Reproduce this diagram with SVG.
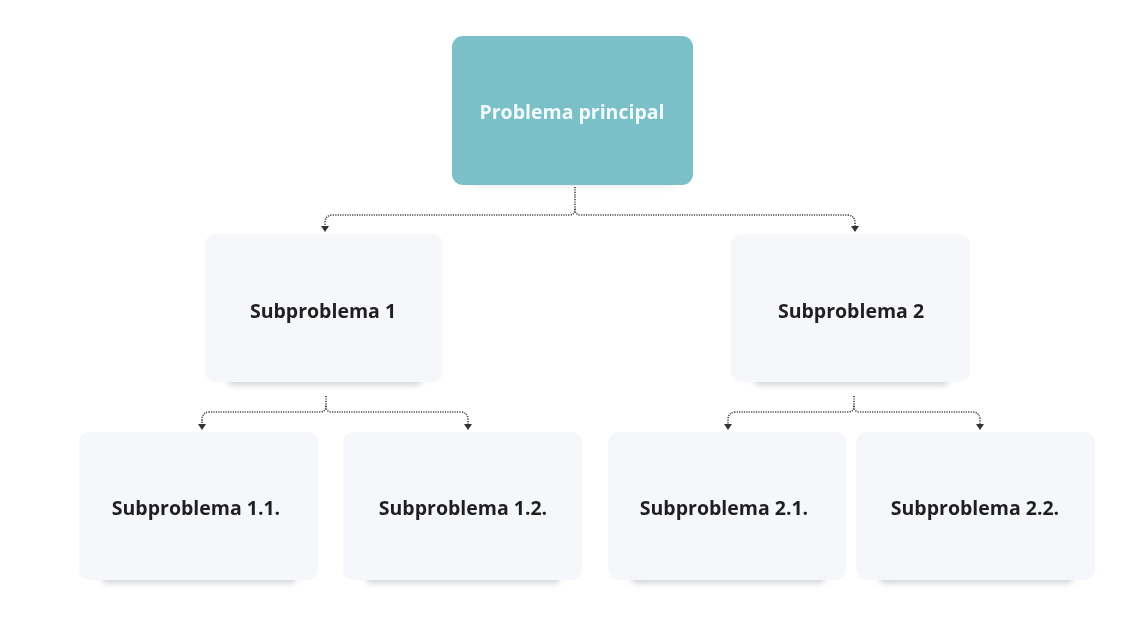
<svg xmlns="http://www.w3.org/2000/svg" width="1133" height="620" viewBox="0 0 1133 620">
<defs>
<style>
.box{fill:#f6f7fb;}
.main{fill:#7bbfc8;}
.lbl{font-family:"Open Sans","Liberation Sans",sans-serif;font-weight:700;font-size:19.5px;fill:#1e1e24;text-anchor:middle;dominant-baseline:central;}
.mlbl{font-family:"Open Sans","Liberation Sans",sans-serif;font-weight:700;font-size:19.5px;fill:#f2fbfc;text-anchor:middle;dominant-baseline:central;}
.con{fill:none;stroke:#444;stroke-width:1.6;stroke-dasharray:1.2 1.2;}
</style>
<filter id="sh" x="-10%" y="-50%" width="120%" height="200%">
<feGaussianBlur stdDeviation="3"/>
</filter>
</defs>
<rect width="1133" height="620" fill="#ffffff"/>
<g id="shadows" fill="#cfd0d4" filter="url(#sh)">
<rect x="470" y="176" width="205" height="10" rx="5" opacity="0.5"/>
<rect x="228" y="375" width="194" height="10" rx="5"/>
<rect x="754" y="375" width="194" height="10" rx="5"/>
<rect x="102" y="573" width="194" height="10" rx="5"/>
<rect x="366" y="573" width="194" height="10" rx="5"/>
<rect x="631" y="573" width="194" height="10" rx="5"/>
<rect x="879" y="573" width="194" height="10" rx="5"/>
</g>
<g id="connectors">
<path class="con" d="M575,187 V209 Q575,215 569,215 H333 Q325,215 325,223 V226"/>
<path class="con" d="M575,209 Q575,215 581,215 H847 Q855,215 855,223 V226"/>
<path d="M321,226 H329 L325,232 Z" fill="#333"/>
<path d="M851,226 H859 L855,232 Z" fill="#333"/>
<path class="con" d="M326,396 V406 Q326,412 320,412 H210 Q202,412 202,420 V424"/>
<path class="con" d="M326,406 Q326,412 332,412 H460 Q468,412 468,420 V424"/>
<path d="M198,424 H206 L202,430 Z" fill="#333"/>
<path d="M464,424 H472 L468,430 Z" fill="#333"/>
<path class="con" d="M854,396 V406 Q854,412 848,412 H736 Q728,412 728,420 V424"/>
<path class="con" d="M854,406 Q854,412 860,412 H972 Q980,412 980,420 V424"/>
<path d="M724,424 H732 L728,430 Z" fill="#333"/>
<path d="M976,424 H984 L980,430 Z" fill="#333"/>
</g>
<g id="n0"><rect class="main" x="452" y="36" width="241" height="149" rx="11"/><text class="mlbl" x="572" y="111">Problema principal</text></g>
<g id="n1"><rect class="box" x="205" y="234" width="238" height="148" rx="10"/><text class="lbl" x="323" y="310">Subproblema 1</text></g>
<g id="n2"><rect class="box" x="731" y="234" width="239" height="148" rx="10"/><text class="lbl" x="851" y="310">Subproblema 2</text></g>
<g id="n3"><rect class="box" x="79" y="432" width="239" height="148" rx="10"/><text class="lbl" x="196" y="507">Subproblema 1.1.</text></g>
<g id="n4"><rect class="box" x="343" y="432" width="239" height="148" rx="10"/><text class="lbl" x="463" y="507">Subproblema 1.2.</text></g>
<g id="n5"><rect class="box" x="608" y="432" width="238" height="148" rx="10"/><text class="lbl" x="724" y="507">Subproblema 2.1.</text></g>
<g id="n6"><rect class="box" x="856" y="432" width="239" height="148" rx="10"/><text class="lbl" x="975" y="507">Subproblema 2.2.</text></g>
</svg>
